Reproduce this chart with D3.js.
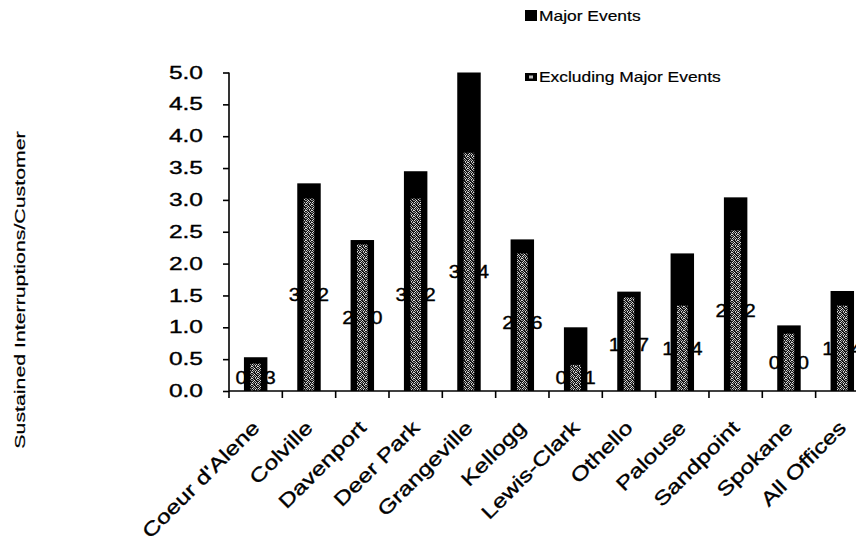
<!DOCTYPE html>
<html>
<head>
<meta charset="utf-8">
<script src="https://cdn.jsdelivr.net/npm/d3@7"></script>
<style>
  body { margin: 0; background: #fff; }
  text { font-family: Arial, "Liberation Sans", sans-serif; fill: #000; stroke: #000; stroke-width: 0.35px; }
</style>
</head>
<body>
<svg id="chart" width="856" height="546"></svg>
<script>
// Sustained interruptions per customer, by office
const offices = ["Coeur d'Alene", "Colville", "Davenport", "Deer Park", "Grangeville", "Kellogg",
                 "Lewis-Clark", "Othello", "Palouse", "Sandpoint", "Spokane", "All Offices"];
const majorEvents    = [0.53, 3.26, 2.37, 3.45, 5.00, 2.38, 1.00, 1.56, 2.16, 3.04, 1.03, 1.57];
const excludingMajor = [0.43, 3.02, 2.30, 3.02, 3.74, 2.16, 0.41, 1.47, 1.34, 2.52, 0.90, 1.34];
const yTicks = [0, 0.5, 1.0, 1.5, 2.0, 2.5, 3.0, 3.5, 4.0, 4.5, 5.0];
const seriesNames = ["Major Events", "Excluding Major Events"];
const yTitle = "Sustained Interruptions/Customer";

const svg = d3.select("#chart");

// widen text by factor k (wide lettering of the original artwork)
function stretch(sel, k) {
  sel.each(function () {
    const w = this.getComputedTextLength();
    this.setAttribute("textLength", (w * k).toFixed(1));
    this.setAttribute("lengthAdjust", "spacingAndGlyphs");
  });
}

// speckled fill for the inner series
const defs = svg.append("defs");
const pat = defs.append("pattern").attr("id", "speckle")
  .attr("patternUnits", "userSpaceOnUse").attr("width", 6).attr("height", 6);
pat.append("rect").attr("width", 6).attr("height", 6).attr("fill", "#141414");
const specks = [
  [0,0,"#cfcfcf"],[3,0,"#8c8c8c"],[5,0,"#e0e0e0"],
  [1,1,"#a8a8a8"],[4,1,"#d6d6d6"],
  [0,2,"#7e7e7e"],[2,2,"#e8e8e8"],[5,2,"#9a9a9a"],
  [1,3,"#dcdcdc"],[3,3,"#b0b0b0"],
  [0,4,"#e4e4e4"],[2,4,"#8a8a8a"],[4,4,"#c8c8c8"],
  [1,5,"#9e9e9e"],[3,5,"#e2e2e2"],[5,5,"#777777"]
];
specks.forEach(([px, py, c]) => pat.append("rect").attr("x", px).attr("y", py)
  .attr("width", 1).attr("height", 1).attr("fill", c));

const x0 = 229, band = 53.33;
const x = d3.scaleBand().domain(offices).range([x0, x0 + band * offices.length]).padding(0);
const y = d3.scaleLinear().domain([0, 5]).range([391, 72.5]);

const outerW = x.bandwidth() * 0.44;
const innerW = x.bandwidth() * 0.2;

// outer bars: all events
svg.append("g").selectAll("rect").data(offices).join("rect")
  .attr("x", (d) => x(d) + x.bandwidth() / 2 - outerW / 2)
  .attr("y", (d, i) => y(majorEvents[i]))
  .attr("width", outerW)
  .attr("height", (d, i) => y(0) - y(majorEvents[i]))
  .attr("fill", "#000");

// value labels of the inner series
const labels = svg.append("g").selectAll("text").data(offices).join("text")
  .attr("x", (d) => x(d) + x.bandwidth() / 2)
  .attr("y", (d, i) => (y(excludingMajor[i]) + y(0)) / 2)
  .attr("text-anchor", "middle")
  .attr("dominant-baseline", "central")
  .style("font-size", "18.5px")
  .text((d, i) => excludingMajor[i].toFixed(2));
stretch(labels, 1.12);

// inner bars: excluding major events
svg.append("g").selectAll("rect").data(offices).join("rect")
  .attr("x", (d) => x(d) + x.bandwidth() / 2 - innerW / 2)
  .attr("y", (d, i) => y(excludingMajor[i]))
  .attr("width", innerW)
  .attr("height", (d, i) => y(0) - y(excludingMajor[i]))
  .attr("fill", "url(#speckle)");

// y axis
const yAxis = svg.append("g").attr("transform", `translate(${x0},0)`)
  .call(d3.axisLeft(y).tickValues(yTicks).tickFormat(d3.format(".1f")).tickSize(6).tickPadding(20));
yAxis.select(".domain").attr("stroke", "#000").attr("stroke-width", 1.6).attr("d", `M0,${y(5)}V${y(0)}`);
yAxis.selectAll(".tick line").attr("stroke", "#000").attr("stroke-width", 1.6);
yAxis.selectAll(".tick text").style("font-size", "17.5px").attr("font-family", null);
stretch(yAxis.selectAll(".tick text"), 1.4);

// x axis: baseline with ticks at category boundaries
const xg = svg.append("g");
xg.append("line").attr("x1", x0).attr("x2", x0 + band * offices.length)
  .attr("y1", y(0)).attr("y2", y(0)).attr("stroke", "#000").attr("stroke-width", 1.6);
xg.selectAll("line.tk").data(offices).join("line").attr("class", "tk")
  .attr("x1", (d) => x(d)).attr("x2", (d) => x(d))
  .attr("y1", y(0)).attr("y2", y(0) + 7).attr("stroke", "#000").attr("stroke-width", 1.6);
const xl = xg.selectAll("text").data(offices).join("text")
  .attr("transform", (d) => `translate(${x(d) + x.bandwidth() / 2 + 5},429) rotate(-45)`)
  .attr("text-anchor", "end")
  .style("font-size", "19.5px")
  .text((d) => d);
stretch(xl, 1.27);

// y axis title
const yt = svg.append("text")
  .attr("transform", "translate(25,290) rotate(-90)")
  .attr("text-anchor", "middle")
  .style("font-size", "15px")
  .style("stroke-width", "0.2px")
  .text(yTitle);
stretch(yt, 1.42);

// legend
const lg = svg.append("g");
lg.append("rect").attr("x", 525).attr("y", 10).attr("width", 12).attr("height", 11).attr("fill", "#000");
lg.append("rect").attr("x", 525).attr("y", 73).attr("width", 12).attr("height", 8).attr("fill", "#000");
lg.append("rect").attr("x", 529).attr("y", 75.5).attr("width", 4).attr("height", 3).attr("fill", "#bbb");
const lt = lg.selectAll("text").data(seriesNames).join("text")
  .attr("x", 539).attr("y", (d, i) => i === 0 ? 21 : 82)
  .style("font-size", "15px")
  .style("stroke-width", "0.2px")
  .text((d) => d);
stretch(lt, 1.16);
</script>
</body>
</html>
